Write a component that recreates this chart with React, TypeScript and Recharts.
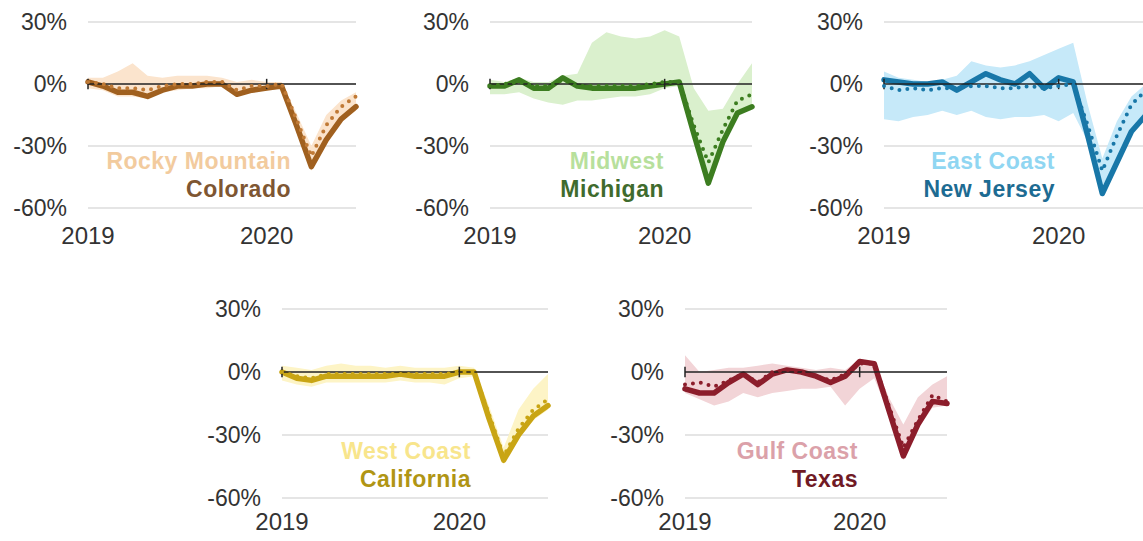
import React from 'react';
import {
  ComposedChart,
  Area,
  Line,
  XAxis,
  YAxis,
  CartesianGrid,
  ReferenceLine,
} from 'recharts';

// monthly, Jan 2019 .. Jul 2020
const months = [
  'Jan 2019', 'Feb 2019', 'Mar 2019', 'Apr 2019', 'May 2019', 'Jun 2019',
  'Jul 2019', 'Aug 2019', 'Sep 2019', 'Oct 2019', 'Nov 2019', 'Dec 2019',
  'Jan 2020', 'Feb 2020', 'Mar 2020', 'Apr 2020', 'May 2020', 'Jun 2020', 'Jul 2020',
];
const yearTicks = [0, 12];
const yearLabels = ['2019', '2020'];
const pctTicks = [-60, -30, 0, 30];

// Rocky Mountain / Colorado
const colorado = [1, -1, -4, -4, -6, -3, -1, -1, 0, 0, -5, -3, -2, -1, -20, -40, -27, -17, -11];
const rockyAvg = [1, 0, -2, -2, -3, -1, 0, 0, 1, 1, -3, -1, -1, 0, -17, -35, -20, -11, -6];
const rockyLow = [-2, -3, -6, -6, -7, -4, -3, -2, -2, -1, -6, -4, -3, -2, -22, -42, -28, -18, -13];
const rockyHigh = [3, 3, 6, 10, 4, 3, 4, 4, 4, 3, 1, 2, 1, 1, -14, -30, -15, -8, -4];

// Midwest / Michigan
const michigan = [-1, -1, 2, -2, -2, 3, -1, -2, -2, -2, -2, -1, 0, 1, -24, -48, -28, -14, -11];
const midwestAvg = [-1, 0, 1, -1, -1, 2, -1, -1, -1, -1, -1, 0, 1, 1, -20, -38, -22, -8, -5];
const midwestLow = [-5, -5, -4, -7, -9, -10, -8, -8, -7, -6, -6, -5, -2, -1, -25, -48, -30, -15, -12];
const midwestHigh = [2, 1, 3, 1, 1, 4, 5, 20, 25, 23, 22, 23, 26, 23, -2, -13, -12, 0, 10];

// East Coast / New Jersey
const newJersey = [2, 1, 0, 0, 1, -3, 1, 5, 2, 0, 5, -2, 3, 1, -25, -53, -38, -23, -15];
const eastAvg = [-1, -3, -2, -3, -2, -2, -1, -1, -2, -2, -1, -2, -1, 0, -20, -42, -25, -10, -3];
const eastLow = [-17, -18, -16, -15, -13, -15, -13, -16, -17, -16, -16, -15, -18, -14, -28, -54, -38, -24, -16];
const eastHigh = [6, 3, 2, 1, 2, 4, 11, 9, 8, 9, 11, 14, 17, 20, -10, -36, -18, -6, 0];

// West Coast / California
const california = [0, -3, -4, -2, -2, -2, -2, -2, -1, -2, -2, -2, 0, 0, -22, -42, -30, -21, -16];
const westAvg = [0, -2, -3, -1, -1, -1, -1, -1, -1, -1, -1, -1, 0, 0, -20, -40, -27, -18, -13];
const westLow = [-4, -6, -7, -5, -5, -5, -5, -5, -4, -5, -5, -6, -3, -2, -24, -44, -32, -23, -18];
const westHigh = [3, 2, 1, 3, 4, 3, 3, 2, 3, 2, 2, 2, 3, 2, -16, -36, -18, -8, -1];

// Gulf Coast / Texas
const texas = [-8, -10, -10, -5, -1, -6, -1, 1, 0, -2, -5, -2, 5, 4, -18, -40, -25, -14, -15];
const gulfAvg = [-6, -5, -7, -4, -1, -5, 0, 1, 0, -2, -4, -1, 4, 4, -16, -36, -23, -11, -14];
const gulfLow = [-10, -13, -16, -14, -10, -12, -10, -9, -8, -8, -7, -16, -8, -3, -20, -42, -27, -17, -16];
const gulfHigh = [8, 0, 1, 2, 2, 3, 4, 3, 2, 1, 2, 1, 6, 5, -12, -25, -12, -6, -2];

const panels = [
  { region: 'Rocky Mountain', state: 'Colorado', values: colorado, avg: rockyAvg, low: rockyLow, high: rockyHigh,
    band: '#fbe4cd', regionColor: '#f2cb9e', line: '#a0601f', dots: '#c07a36', stateColor: '#7e5632',
    left: 0, top: 0, plotW: 268, labelRight: 291, row: 0 },
  { region: 'Midwest', state: 'Michigan', values: michigan, avg: midwestAvg, low: midwestLow, high: midwestHigh,
    band: '#daf0cd', regionColor: '#b7e09c', line: '#3c7d20', dots: '#3c7d20', stateColor: '#3f6b2d',
    left: 402, top: 0, plotW: 262, labelRight: 664, row: 0 },
  { region: 'East Coast', state: 'New Jersey', values: newJersey, avg: eastAvg, low: eastLow, high: eastHigh,
    band: '#c6e9f9', regionColor: '#90d6f2', line: '#1877a8', dots: '#1877a8', stateColor: '#1d6b92',
    left: 796, top: 0, plotW: 262, labelRight: 1055, row: 0 },
  { region: 'West Coast', state: 'California', values: california, avg: westAvg, low: westLow, high: westHigh,
    band: '#fdf4c6', regionColor: '#f8e58c', line: '#c9a514', dots: '#c9a514', stateColor: '#b09514',
    left: 194, top: 287, plotW: 266, labelRight: 471, row: 1 },
  { region: 'Gulf Coast', state: 'Texas', values: texas, avg: gulfAvg, low: gulfLow, high: gulfHigh,
    band: '#f2d4d7', regionColor: '#dba1a9', line: '#8c1d2b', dots: '#8c1d2b', stateColor: '#701a25',
    left: 597, top: 287, plotW: 262, labelRight: 858, row: 1 },
];

const FONT = "'Liberation Sans', Arial, sans-serif";

function Panel({ p }: { p: typeof panels[number] }) {
  const data = months.map((m, i) => ({
    i,
    month: m,
    band: [p.low[i], p.high[i]],
    state: p.values[i],
    region: p.avg[i],
  }));
  const plotH = p.row === 0 ? 186 : 189;
  const width = 88 + p.plotW + 4;
  const height = 22 + plotH + 40;

  return (
    <div style={{ position: 'absolute', left: p.left, top: p.top }}>
      <ComposedChart width={width} height={height} data={data}
        margin={{ top: 22, right: 4, bottom: 0, left: 0 }}>
        <CartesianGrid horizontal vertical={false} stroke="#dddddd" strokeWidth={1.5} />
        <XAxis
          dataKey="i"
          type="number"
          domain={[0, 18]}
          ticks={yearTicks}
          tickFormatter={(v) => yearLabels[yearTicks.indexOf(v)]}
          axisLine={false}
          tickLine={false}
          tickSize={0}
          tickMargin={p.row === 0 ? 19 : 15}
          height={40}
          tick={{ fontSize: 24, fill: '#333', fontFamily: FONT }}
        />
        <YAxis
          type="number"
          domain={[-60, 30]}
          ticks={pctTicks}
          tickFormatter={(v) => `${v}%`}
          axisLine={false}
          tickLine={false}
          tickSize={0}
          tickMargin={21}
          width={88}
          tick={{ fontSize: 23, fill: '#333', fontFamily: FONT }}
        />
        <Area dataKey="band" stroke="none" fill={p.band} fillOpacity={1} isAnimationActive={false} />
        <Line dataKey="state" stroke={p.line} strokeWidth={5.5} strokeLinejoin="round"
          strokeLinecap="round" dot={false} isAnimationActive={false} />
        <ReferenceLine y={0} stroke="#222" strokeWidth={1.5} />
        {yearTicks.map((t) => (
          <ReferenceLine key={t} segment={[{ x: t, y: -2.5 }, { x: t, y: 2.5 }]} stroke="#222" strokeWidth={1.5} />
        ))}
        <Line dataKey="region" stroke={p.dots} strokeWidth={4} strokeDasharray="0 8"
          strokeLinecap="round" dot={false} isAnimationActive={false} />
      </ComposedChart>
      {/* region / state labels */}
      <div style={{ position: 'absolute', left: p.labelRight - p.left - 300, width: 300, top: 149.5 + (p.row ? 3 : 0),
        textAlign: 'right', fontFamily: FONT, fontWeight: 700, fontSize: 23, lineHeight: '23px',
        letterSpacing: 0.5, color: p.regionColor, whiteSpace: 'nowrap' }}>
        {p.region}
      </div>
      <div style={{ position: 'absolute', left: p.labelRight - p.left - 300, width: 300, top: 177.5 + (p.row ? 3 : 0),
        textAlign: 'right', fontFamily: FONT, fontWeight: 700, fontSize: 23, lineHeight: '23px',
        letterSpacing: 0.5, color: p.stateColor, whiteSpace: 'nowrap' }}>
        {p.state}
      </div>
    </div>
  );
}

export default function App() {
  return (
    <div style={{ position: 'absolute', left: 0, top: 0, width: 1143, height: 541,
      overflow: 'hidden', background: '#fff', fontFamily: FONT }}>
      {panels.map((p) => <Panel key={p.region} p={p} />)}
    </div>
  );
}
